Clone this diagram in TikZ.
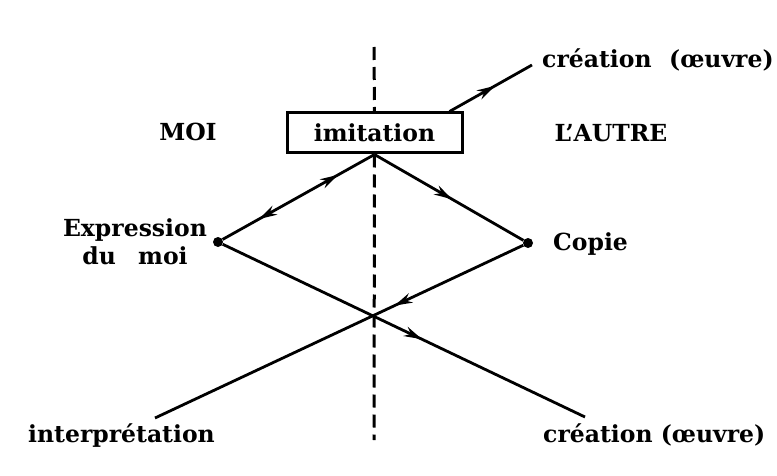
\documentclass[tikz,border=0pt]{standalone}
\usepackage{fontspec}
\setmainfont{DejaVu Serif}
\usetikzlibrary{arrows.meta,decorations.markings}
\tikzset{
  lab/.style={font=\fontsize{23.5}{28}\selectfont\bfseries, inner sep=0pt},
  ln/.style={line width=2.8pt},
  dsh/.style={line width=3pt, dash pattern=on 13pt off 7pt},
  boxst/.style={draw, line width=3pt, minimum width=175pt, minimum height=40pt, inner sep=0pt, font=\fontsize{23.5}{28}\selectfont\bfseries},
  dotst/.style={circle, fill, inner sep=0pt, minimum size=10pt},
  fwd/.style={postaction={decorate, decoration={markings, mark=at position #1 with {\arrow{Stealth[length=18pt,width=10pt]}}}}},
  bwd/.style={postaction={decorate, decoration={markings, mark=at position #1 with {\arrowreversed{Stealth[length=18pt,width=10pt]}}}}},
}
\begin{document}
\begin{tikzpicture}[x=1pt,y=-1pt]
\useasboundingbox (0,0) rectangle (777,476);
% nodes
\node[boxst] (imit) at (374.5,133) {imitation};
\node[dotst] (dE) at (218,242) {};
\node[dotst] (dC) at (528,243) {};
\coordinate (cross) at (374,315);
\coordinate (dTop) at (374,47);
\coordinate (dBot) at (374,440);
\coordinate (tEnd) at (532,65);
\coordinate (iEnd) at (155,418);
\coordinate (cEnd) at (585,417);
\coordinate (tStart) at ([xshift=-14pt]imit.north east);
% labels
\node[lab, anchor=base west] (creaTop) at (542,68) {création\hspace{0.4em} (œuvre)};
\node[lab, anchor=base] (moi) at (188,141) {MOI};
\node[lab, anchor=base] (autre) at (611,142) {L’AUTRE};
\node[lab, anchor=center, align=center] (expr) at (135,242) {Expression\\du\hspace{0.6em} moi};
\node[lab, anchor=base west] (copie) at (553,251) {Copie};
\node[lab, anchor=base west] (interp) at (28,442) {interprétation};
\node[lab, anchor=base west] (creaBot) at (543,442) {création (œuvre)};
% dashed axis
\draw[dsh] (dTop) -- (imit.north);
\draw[dsh] (imit.south) -- (dBot);
% connectors
\draw[ln, fwd=0.55] (tStart) -- (tEnd);
\draw[ln, fwd=0.76, bwd=0.24] (dE) -- (imit.south);
\draw[ln, fwd=0.52] (imit.south) -- (dC);
\draw[ln, fwd=0.35] (dC) -- (iEnd);
\draw[ln, fwd=0.55] (dE) -- (cEnd);
\end{tikzpicture}
\end{document}
